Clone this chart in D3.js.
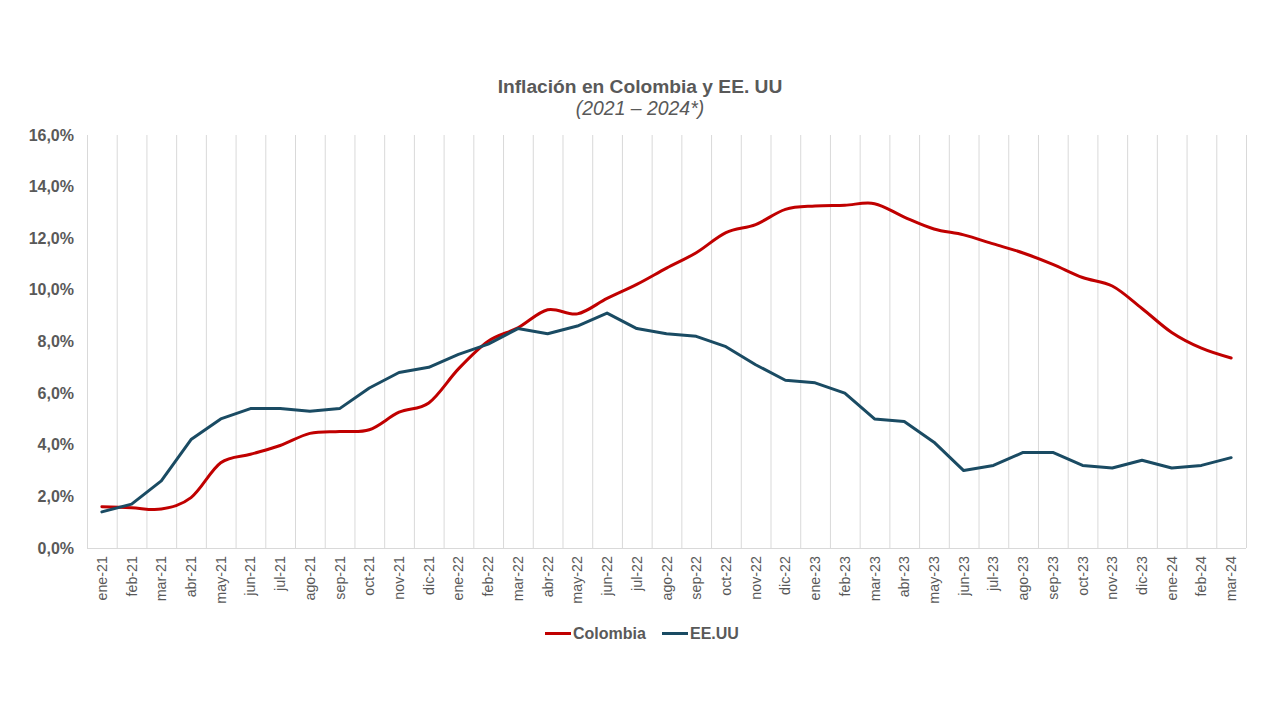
<!DOCTYPE html>
<html><head><meta charset="utf-8">
<script src="https://cdn.jsdelivr.net/npm/d3@7"></script>
<style>body{margin:0;background:#fff}svg{font-family:"Liberation Sans",Arial,sans-serif}</style>
</head><body>
<script>
const months = ["ene-21","feb-21","mar-21","abr-21","may-21","jun-21","jul-21","ago-21","sep-21","oct-21","nov-21","dic-21",
"ene-22","feb-22","mar-22","abr-22","may-22","jun-22","jul-22","ago-22","sep-22","oct-22","nov-22","dic-22",
"ene-23","feb-23","mar-23","abr-23","may-23","jun-23","jul-23","ago-23","sep-23","oct-23","nov-23","dic-23",
"ene-24","feb-24","mar-24"];
const colombia = [1.60,1.56,1.51,1.95,3.30,3.63,3.97,4.44,4.51,4.58,5.26,5.62,
6.94,8.01,8.53,9.23,9.07,9.67,10.21,10.84,11.44,12.22,12.53,13.12,
13.25,13.28,13.34,12.82,12.36,12.13,11.78,11.43,10.99,10.48,10.15,9.28,
8.35,7.74,7.36];
const eeuu = [1.4,1.7,2.6,4.2,5.0,5.4,5.4,5.3,5.4,6.2,6.8,7.0,
7.5,7.9,8.5,8.3,8.6,9.1,8.5,8.3,8.2,7.8,7.1,6.5,
6.4,6.0,5.0,4.9,4.1,3.0,3.2,3.7,3.7,3.2,3.1,3.4,
3.1,3.2,3.5];
const yTicks = [0,2,4,6,8,10,12,14,16];

const W=1280,H=720;
const svg=d3.select("body").append("svg").attr("width",W).attr("height",H);
const L=87,R=1246,T=135,B=548;
const x=d3.scaleBand().domain(months).range([L,R]).padding(0);
const y=d3.scaleLinear().domain([0,16]).range([B,T]);
const grey="#d9d9d9", txt="#595959";

svg.append("g").selectAll("line").data(months.slice(1)).join("line")
  .attr("x1",d=>x(d)+0.5).attr("x2",d=>x(d)+0.5).attr("y1",T).attr("y2",B)
  .attr("stroke",grey).attr("stroke-width",1);
svg.append("line").attr("x1",L+0.5).attr("x2",L+0.5).attr("y1",T).attr("y2",B).attr("stroke",grey);
svg.append("line").attr("x1",R+0.5).attr("x2",R+0.5).attr("y1",T).attr("y2",B).attr("stroke",grey);
svg.append("line").attr("x1",L).attr("x2",R).attr("y1",B+0.5).attr("y2",B+0.5).attr("stroke",grey);

const fmt=v=>v.toFixed(1).replace(".",",")+"%";
svg.append("g").selectAll("text").data(yTicks).join("text")
  .attr("x",74).attr("y",d=>y(d)).attr("dy","0.35em").attr("text-anchor","end")
  .attr("font-size",16).attr("font-weight","bold").attr("fill",txt).text(fmt);

svg.append("g").selectAll("text").data(months).join("text")
  .attr("transform",d=>`translate(${x(d)+x.bandwidth()/2+5},${B+8}) rotate(-90)`)
  .attr("text-anchor","end").attr("font-size",14.3).attr("fill",txt).text(d=>d);

const cx=d=>x(d)+x.bandwidth()/2;
const lineCol=d3.line().x((d,i)=>cx(months[i])).y(d=>y(d)).curve(d3.curveCatmullRom.alpha(0));
const lineUS=d3.line().x((d,i)=>cx(months[i])).y(d=>y(d));
svg.append("path").attr("d",lineCol(colombia)).attr("fill","none").attr("stroke","#C00000").attr("stroke-width",3).attr("stroke-linejoin","round").attr("stroke-linecap","round");
svg.append("path").attr("d",lineUS(eeuu)).attr("fill","none").attr("stroke","#1A4B63").attr("stroke-width",3).attr("stroke-linejoin","round").attr("stroke-linecap","round");

svg.append("text").attr("x",640).attr("y",93).attr("text-anchor","middle").attr("font-size",19.2).attr("font-weight","bold").attr("fill",txt).text("Inflación en Colombia y EE. UU");
svg.append("text").attr("x",640).attr("y",115).attr("text-anchor","middle").attr("font-size",19.4).attr("font-style","italic").attr("fill",txt).text("(2021 – 2024*)");

const leg=[{n:"Colombia",c:"#C00000",x:545},{n:"EE.UU",c:"#1A4B63",x:662}];
const lg=svg.append("g").selectAll("g").data(leg).join("g");
lg.append("line").attr("x1",d=>d.x).attr("x2",d=>d.x+26).attr("y1",633.5).attr("y2",633.5).attr("stroke",d=>d.c).attr("stroke-width",3);
lg.append("text").attr("x",d=>d.x+28).attr("y",633).attr("dy","0.35em").attr("font-size",16).attr("font-weight","bold").attr("fill",txt).text(d=>d.n);
</script>
</body></html>
